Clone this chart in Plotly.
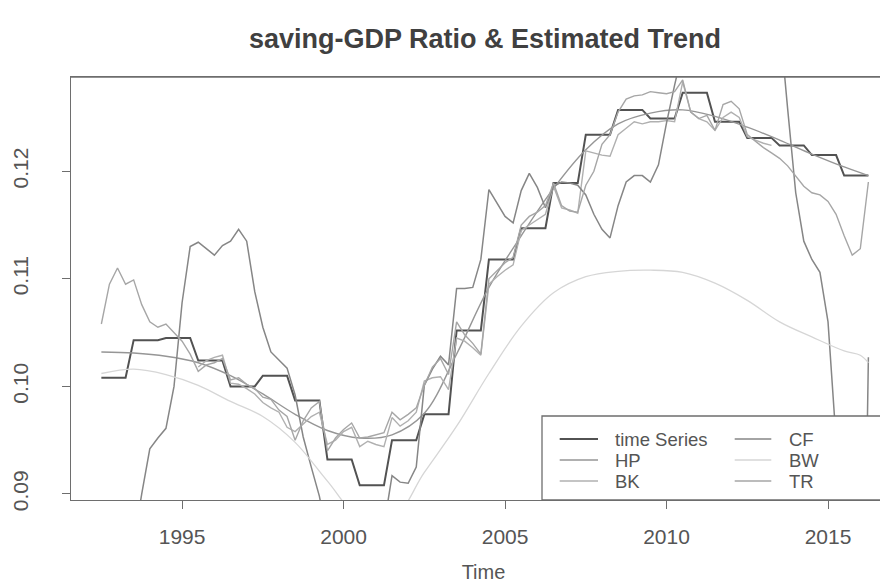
import plotly.graph_objects as go

# ---------------- data ----------------
quarters = [1992.5 + 0.25 * i for i in range(96)]

ts_values = [
    0.1008, 0.1008, 0.1008, 0.1008, 0.1043, 0.1043, 0.1043, 0.1043,
    0.1045, 0.1045, 0.1045, 0.1045, 0.1024, 0.1024, 0.1024, 0.1024,
    0.1000, 0.1000, 0.1000, 0.1000, 0.1010, 0.1010, 0.1010, 0.1010,
    0.0987, 0.0987, 0.0987, 0.0987, 0.0932, 0.0932, 0.0932, 0.0932,
    0.0908, 0.0908, 0.0908, 0.0908, 0.0950, 0.0950, 0.0950, 0.0950,
    0.0974, 0.0974, 0.0974, 0.0974, 0.1052, 0.1052, 0.1052, 0.1052,
    0.1118, 0.1118, 0.1118, 0.1118, 0.1147, 0.1147, 0.1147, 0.1147,
    0.1189, 0.1189, 0.1189, 0.1189, 0.1234, 0.1234, 0.1234, 0.1234,
    0.1257, 0.1257, 0.1257, 0.1257, 0.1249, 0.1249, 0.1249, 0.1249,
    0.1273, 0.1273, 0.1273, 0.1273, 0.1246, 0.1246, 0.1246, 0.1246,
    0.1231, 0.1231, 0.1231, 0.1231, 0.1224, 0.1224, 0.1224, 0.1224,
    0.1215, 0.1215, 0.1215, 0.1215, 0.1196, 0.1196, 0.1196, 0.1196,
]

hp_years = [1992.5, 1993.5, 1994.5, 1995.5, 1996.5, 1997.5, 1998.5, 1999.5,
            2000.5, 2001.5, 2002.5, 2003.5, 2004.5, 2005.5, 2006.5, 2007.5,
            2008.5, 2009.5, 2010.5, 2011.5, 2012.5, 2013.5, 2014.5, 2015.5,
            2016.25]
hp_values = [0.1032, 0.1031, 0.1028, 0.1022, 0.1010, 0.0993, 0.0974, 0.0959,
             0.0952, 0.0955, 0.0975, 0.1030, 0.1092, 0.1140, 0.1184, 0.1220,
             0.1244, 0.1254, 0.1257, 0.1251, 0.1241, 0.1229, 0.1216, 0.1204,
             0.1196]

bk_quarters = quarters[12:84]
bk_values = [
    0.1018, 0.1024, 0.1027, 0.1029, 0.1003, 0.1002, 0.0998, 0.0993,
    0.0985, 0.0980, 0.0976, 0.0962, 0.0958, 0.0965, 0.0972, 0.0976,
    0.0946, 0.0950, 0.0958, 0.0962, 0.0944, 0.0949, 0.0946, 0.0944,
    0.0971, 0.0963, 0.0968, 0.0976, 0.1005, 0.1008, 0.1009, 0.0997,
    0.1045, 0.1042, 0.1036, 0.1029, 0.1095, 0.1102, 0.1108, 0.1113,
    0.1145, 0.1150, 0.1155, 0.1160, 0.1186, 0.1166, 0.1164, 0.1161,
    0.1219, 0.1217, 0.1215, 0.1214, 0.1234, 0.1240, 0.1246, 0.1244,
    0.1246, 0.1246, 0.1247, 0.1246, 0.1283, 0.1255, 0.1249, 0.1246,
    0.1238, 0.1250, 0.1255, 0.1250, 0.1232, 0.1229, 0.1226, 0.1224,
]

cf_values = [
    0.0760, 0.0770, 0.0790, 0.0820, 0.0855, 0.0900, 0.0942, 0.0952,
    0.0961, 0.1000, 0.1078, 0.1130, 0.1134, 0.1128, 0.1122, 0.1131,
    0.1135, 0.1146, 0.1135, 0.1088, 0.1055, 0.1032, 0.1024, 0.1017,
    0.0992, 0.0953, 0.0925, 0.0898, 0.0860, 0.0830, 0.0810, 0.0800,
    0.0800, 0.0815, 0.0835, 0.0870, 0.0917, 0.0911, 0.0910, 0.0925,
    0.1001, 0.1016, 0.1028, 0.1020, 0.1091, 0.1091, 0.1092, 0.1118,
    0.1183, 0.1170, 0.1158, 0.1152, 0.1182, 0.1198, 0.1185, 0.1166,
    0.1186, 0.1190, 0.1189, 0.1187, 0.1178, 0.1160, 0.1146, 0.1138,
    0.1168, 0.1190, 0.1196, 0.1196, 0.1190, 0.1206, 0.1245, 0.1280,
    0.1315, 0.1345, 0.1370, 0.1390, 0.1402, 0.1408, 0.1407, 0.1400,
    0.1390, 0.1378, 0.1365, 0.1352, 0.1340, 0.1258, 0.1180, 0.1135,
    0.1118, 0.1106, 0.1060, 0.0950, 0.0830, 0.0700, 0.0550, 0.1027,
]

bw_years = [1992.5, 1993.5, 1994.5, 1995.5, 1996.5, 1997.5, 1998.5, 1999.5,
            2000.5, 2001.5, 2002.5, 2003.5, 2004.5, 2005.5, 2006.5, 2007.5,
            2008.5, 2009.5, 2010.5, 2011.5, 2012.5, 2013.5, 2014.5, 2015.5,
            2016.0, 2016.25]
bw_values = [0.1012, 0.1016, 0.1011, 0.1001, 0.0986, 0.0972, 0.0948, 0.0912,
             0.0878, 0.0876, 0.0920, 0.0963, 0.1012, 0.1056, 0.1087, 0.1102,
             0.1107, 0.1108, 0.1106, 0.1096, 0.1080, 0.1060, 0.1046, 0.1033,
             0.1029, 0.1022]

tr_values = [
    0.1058, 0.1095, 0.1110, 0.1095, 0.1099, 0.1076, 0.1060, 0.1055,
    0.1058, 0.1050, 0.1042, 0.1030, 0.1014, 0.1020, 0.1022, 0.1026,
    0.1006, 0.1008, 0.1002, 0.0998, 0.0990, 0.0988, 0.0978, 0.0972,
    0.0950, 0.0968, 0.0980, 0.0986, 0.0940, 0.0952, 0.0960, 0.0966,
    0.0952, 0.0953, 0.0955, 0.0957, 0.0976, 0.0969, 0.0974, 0.0980,
    0.1001, 0.1018, 0.1026, 0.1011, 0.1060, 0.1048, 0.1040, 0.1030,
    0.1100, 0.1108, 0.1115, 0.1120, 0.1150, 0.1158, 0.1162, 0.1168,
    0.1189, 0.1168, 0.1163, 0.1162, 0.1187, 0.1200, 0.1225, 0.1234,
    0.1255, 0.1267, 0.1270, 0.1271, 0.1274, 0.1273, 0.1272, 0.1274,
    0.1285, 0.1255, 0.1249, 0.1252, 0.1238, 0.1262, 0.1265, 0.1258,
    0.1234, 0.1228, 0.1222, 0.1217, 0.1212, 0.1205, 0.1196, 0.1186,
    0.1180, 0.1178, 0.1172, 0.1160, 0.1140, 0.1122, 0.1128, 0.1190,
]

series_names = ["time Series", "HP", "BK", "CF", "BW", "TR"]
x_ticks = [1995, 2000, 2005, 2010, 2015]
y_ticks = [0.09, 0.10, 0.11, 0.12]
y_tick_labels = ["0.09", "0.10", "0.11", "0.12"]

# ---------------- styling ----------------
colors = {"time Series": "#525252", "HP": "#969696", "BK": "#b0b0b0",
          "CF": "#868686", "BW": "#d6d6d6", "TR": "#a6a6a6"}
widths = {"time Series": 2.0, "HP": 1.4, "BK": 1.4, "CF": 1.5, "BW": 1.3, "TR": 1.4}
FONT = "Liberation Sans, Arial, sans-serif"
TEXT = "#555555"
AXIS = "#6e6e6e"

fig = go.Figure()
plot_order = [
    ("time Series", quarters, ts_values, "linear"),
    ("HP", hp_years, hp_values, "spline"),
    ("BK", bk_quarters, bk_values, "linear"),
    ("CF", quarters, cf_values, "linear"),
    ("BW", bw_years, bw_values, "spline"),
    ("TR", quarters, tr_values, "linear"),
]
for name, xs, ys, shape in plot_order:
    fig.add_trace(go.Scatter(
        x=xs, y=ys, mode="lines", name=name, showlegend=False,
        line=dict(color=colors[name], width=widths[name], shape=shape),
    ))

# plot area in pixels: x 63..888, y 69..492
W, H = 888, 587
L, R, T, B = 63, 0, 69, 95
pw, ph = W - L - R, H - T - B


def px_x(px):
    return (px - L) / pw


def px_y(py):
    return (H - B - py) / ph


# manual two-column legend (R style)
shapes = [dict(type="rect", xref="paper", yref="paper",
               x0=px_x(534), x1=1.05, y0=0, y1=px_y(408),
               line=dict(color=AXIS, width=1.3), fillcolor="white", layer="above")]
annotations = []
rows = [431, 452, 473]
cols = [(551.7, 590, 605), (726.7, 763.3, 779)]
for i, name in enumerate(series_names):
    c = cols[i // 3]
    r = rows[i % 3]
    shapes.append(dict(type="line", xref="paper", yref="paper",
                       x0=px_x(c[0]), x1=px_x(c[1]), y0=px_y(r), y1=px_y(r),
                       line=dict(color=colors[name], width=widths[name]), layer="above"))
    annotations.append(dict(xref="paper", yref="paper", x=px_x(c[2]), y=px_y(r),
                            text=name, showarrow=False, xanchor="left", yanchor="middle",
                            font=dict(family=FONT, size=18.5, color=TEXT)))

fig.update_layout(
    width=W, height=H,
    margin=dict(l=L, r=R, t=T, b=B),
    paper_bgcolor="white", plot_bgcolor="white",
    title=dict(text="<b>saving-GDP Ratio &amp; Estimated Trend</b>",
               x=px_x(477), xref="paper", xanchor="center",
               y=1 - 31 / H, yref="container", yanchor="middle",
               font=dict(family=FONT, size=27, color="#404040")),
    font=dict(family=FONT, color=TEXT),
    shapes=shapes,
    annotations=annotations,
    xaxis=dict(range=[1991.56, 2017.105], showgrid=False, zeroline=False,
               showline=True, linecolor=AXIS, linewidth=1.3, mirror=True,
               ticks="outside", ticklen=8, tickcolor=AXIS, tickwidth=1.3,
               tickvals=x_ticks, ticktext=[str(v) for v in x_ticks],
               tickfont=dict(family=FONT, size=21, color=TEXT),
               ticklabelstandoff=10,
               title=dict(text="Time", font=dict(family=FONT, size=20, color=TEXT),
                          standoff=17)),
    yaxis=dict(range=[0.08944, 0.12876], showgrid=False, zeroline=False,
               showline=True, linecolor=AXIS, linewidth=1.3, mirror=False,
               ticks="outside", ticklen=8, tickcolor=AXIS, tickwidth=1.3,
               tickvals=y_ticks, ticktext=y_tick_labels, tickangle=-90,
               tickfont=dict(family=FONT, size=21, color=TEXT),
               ticklabelstandoff=25),
)
fig.add_shape(type="line", xref="paper", yref="paper", x0=0, x1=1, y0=1, y1=1,
              line=dict(color=AXIS, width=1.3))

fig.write_html("out.html")
